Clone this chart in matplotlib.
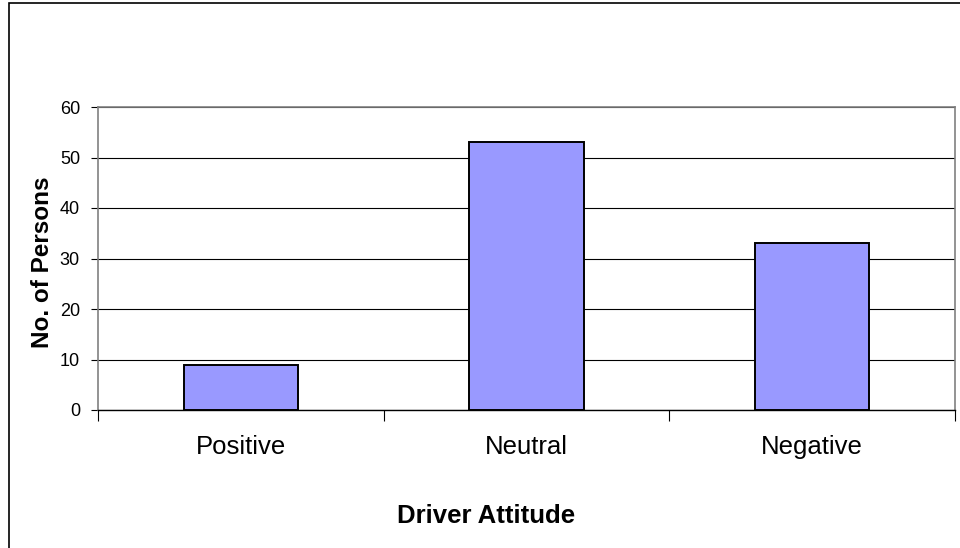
import matplotlib
matplotlib.use("Agg")
import matplotlib.pyplot as plt
from matplotlib.patches import Rectangle
from matplotlib.ticker import FixedLocator

categories = ["Positive", "Neutral", "Negative"]
values = [9, 53, 33]
y_ticks = [0, 10, 20, 30, 40, 50, 60]

plt.rcParams['font.family'] = ['Liberation Sans', 'DejaVu Sans']

fig = plt.figure(figsize=(9.6, 5.48), dpi=100)
fig.patch.set_facecolor('white')
ax = fig.add_axes([98/960, (548-410)/548, 857/960, 303/548])

x = list(range(len(categories)))
ax.bar(x, values, width=0.4, color='#9999FF', edgecolor='black', linewidth=1.4, zorder=3)

ax.set_xlim(-0.5, len(categories) - 0.5)
ax.set_ylim(0, 60)
ax.set_yticks(y_ticks)
ax.yaxis.grid(True, color='black', linewidth=0.8, zorder=0)
ax.set_axisbelow(True)

ax.set_xticks(x)
ax.set_xticklabels(categories, fontsize=18.5)
ax.xaxis.set_minor_locator(FixedLocator([-0.5, 0.5, 1.5, 2.5]))
ax.tick_params(axis='x', which='major', length=0, pad=18)
ax.tick_params(axis='x', which='minor', length=8, width=0.8, color='black', direction='out')
ax.tick_params(axis='y', which='major', length=5, width=0.8, color='black', direction='out', labelsize=13, pad=8)

for s in ['top', 'right', 'left']:
    ax.spines[s].set_color('#808080')
    ax.spines[s].set_linewidth(1.2)
ax.spines['bottom'].set_color('black')
ax.spines['bottom'].set_linewidth(1.0)

fig.text(43/960, 1 - 262/548, "No. of Persons", rotation=90, fontsize=17.5, fontweight='bold',
         ha='center', va='center')
fig.text(486/960, 1 - 516/548, "Driver Attitude", fontsize=18.5, fontweight='bold',
         ha='center', va='center')

fig.add_artist(Rectangle((8.5/960, -0.1), 2, 1.1 - 3.5/548, transform=fig.transFigure,
                         fill=False, edgecolor='black', linewidth=1.2))

fig.savefig("out.png", dpi=100)
